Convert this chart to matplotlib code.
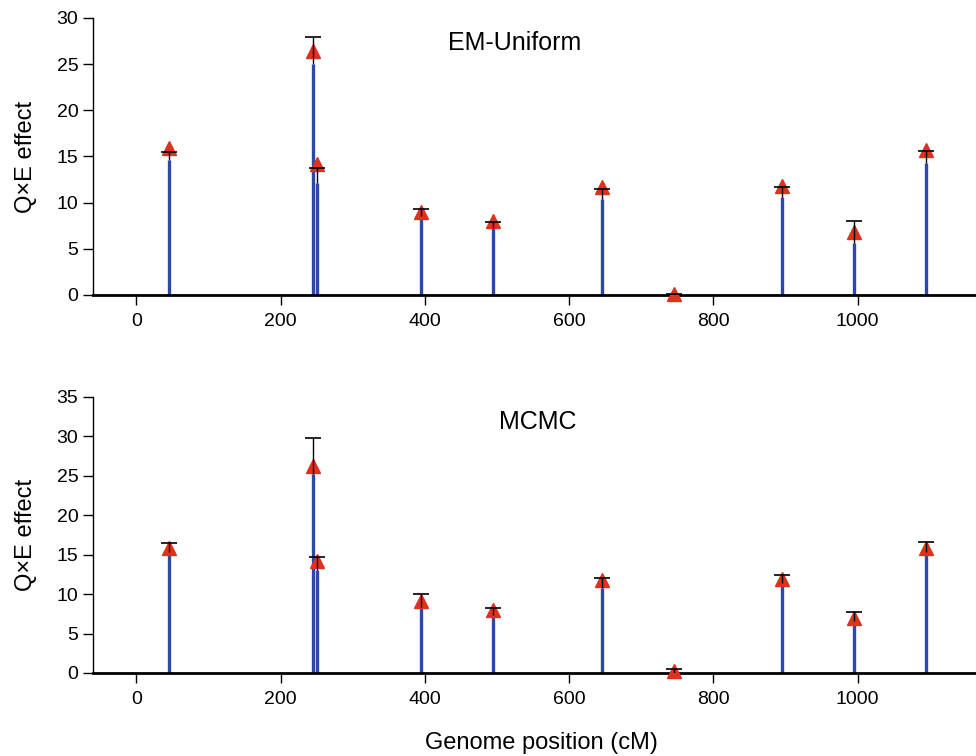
import matplotlib.pyplot as plt
import numpy as np

plt.rcParams['font.family'] = ['Liberation Sans', 'DejaVu Sans']

# QTL positions (cM)
pos = np.array([45, 245, 250, 395, 495, 645, 745, 895, 995, 1095])

# EM-Uniform: estimate (triangle), upper end of bar, lower end (top of blue stem)
em_est = np.array([15.9, 26.4, 14.2, 9.0, 8.0, 11.7, 0.15, 11.8, 6.8, 15.7])
em_up = np.array([15.5, 27.9, 13.8, 9.3, 7.95, 11.5, 0.1, 11.7, 8.0, 15.6])
em_lo = np.array([14.6, 25.0, 12.1, 8.6, 7.25, 10.4, 0.0, 10.65, 5.6, 14.3])

# MCMC
mc_est = np.array([15.9, 26.3, 14.2, 9.1, 8.0, 11.8, 0.3, 11.9, 7.0, 15.8])
mc_up = np.array([16.5, 29.8, 14.7, 10.0, 8.2, 12.0, 0.5, 12.4, 7.7, 16.6])
mc_lo = np.array([15.3, 25.2, 13.0, 8.4, 7.35, 10.8, 0.0, 11.4, 6.6, 15.3])

panels = [
    ('EM-Uniform', em_est, em_up, em_lo, 30, 525),
    ('MCMC', mc_est, mc_up, mc_lo, 35, 556),
]

fig = plt.figure(figsize=(9.76, 7.56), dpi=100)
rects = [[0.0953, 0.6098, 0.9047, 0.3664], [0.0953, 0.1098, 0.9047, 0.3651]]

for rect, (title, est, up, lo, ymax, tx) in zip(rects, panels):
    ax = fig.add_axes(rect)
    ax.vlines(pos, 0, lo, color='#2e48a6', lw=2.4, zorder=2)
    ax.plot(pos, est, ls='none', marker='^', ms=9.5, color='#e0301e', zorder=3,
            clip_on=False)
    ax.vlines(pos, lo, up, color='black', lw=1.0, zorder=4)
    ax.plot(pos, up, ls='none', marker='_', ms=12, mew=1.2, color='black', zorder=4,
            clip_on=False)
    ax.set_xlim(-60, 1164)
    ax.set_ylim(0, ymax)
    ax.set_xticks(np.arange(0, 1001, 200))
    ax.set_yticks(np.arange(0, ymax + 1, 5))
    ax.spines['top'].set_visible(False)
    ax.spines['right'].set_visible(False)
    ax.spines['bottom'].set_linewidth(2.0)
    ax.spines['left'].set_linewidth(1.0)
    ax.tick_params(labelsize=14, length=7, width=1.0, direction='out')
    ax.tick_params(axis='x', pad=6)
    ax.set_ylabel('Q×E effect', fontsize=17, labelpad=14)
    ax.text(tx, ymax * 0.91, title, fontsize=18, ha='center', va='center')

fig.text(0.555, 0.003, 'Genome position (cM)', fontsize=17, ha='center', va='bottom')

fig.savefig('out.png', dpi=100)
